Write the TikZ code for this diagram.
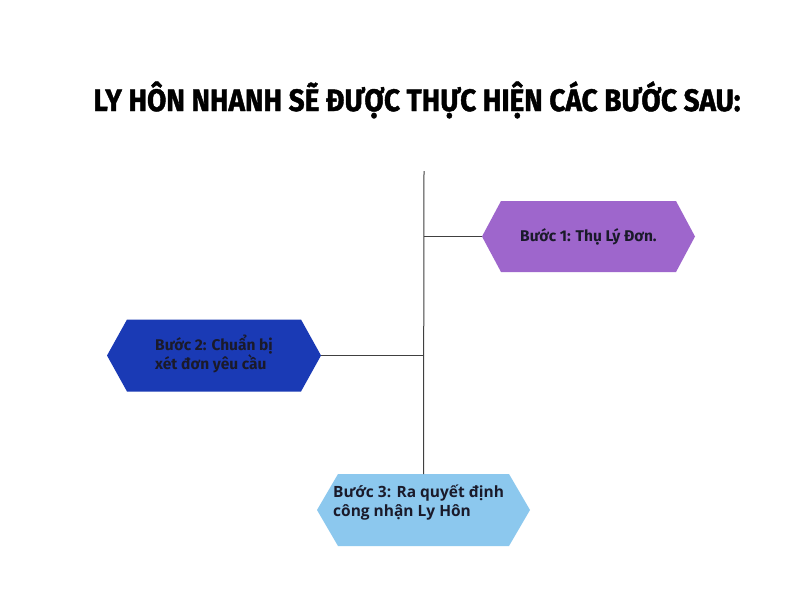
\documentclass[tikz,border=0pt]{standalone}
\usepackage{fontspec}
\setmainfont{Fira Sans}
\newfontfamily\opensans{Open Sans}
\newfontfamily\titlefont{Fira Sans}[BoldFeatures={FakeBold=1.5}]
\usetikzlibrary{calc}
\definecolor{hexpurple}{HTML}{9E66CC}
\definecolor{hexblue}{HTML}{1A3AB5}
\definecolor{hexlight}{HTML}{8CC8EE}
\definecolor{txtdark}{HTML}{1A1A2A}
\tikzset{
  conn/.style={draw=black!75, line width=1pt},
  steptext/.style={text=txtdark, font=\fontsize{15.5}{17}\selectfont\bfseries, align=left, inner sep=0pt},
}
% #1 name, #2 cx, #3 cy, #4 half width, #5 half height, #6 inset, #7 colour
\newcommand\hexshape[7]{%
  \fill[#7] (#2-#4,#3) -- (#2-#4+#6,#3-#5) -- (#2+#4-#6,#3-#5) -- (#2+#4,#3)
    -- (#2+#4-#6,#3+#5) -- (#2-#4+#6,#3+#5) -- cycle;
  \coordinate (#1-w) at (#2-#4,#3);
  \coordinate (#1-e) at (#2+#4,#3);
  \coordinate (#1-n) at (#2,#3-#5);
}
\begin{document}
\begin{tikzpicture}[x=1pt,y=-1pt]
\useasboundingbox (0,0) rectangle (800,600);
\fill[white] (0,0) rectangle (800,600);
% title
\node[anchor=base, inner sep=0pt] (title) at (417,111)
  {\scalebox{0.90}[1]{\titlefont\fontsize{31}{31}\selectfont\bfseries LY HÔN NHANH SẼ ĐƯỢC THỰC HIỆN CÁC BƯỚC SAU:}};
% hexagons
\hexshape{h1}{588.5}{236.5}{106.5}{35.5}{19}{hexpurple}
\hexshape{h2}{214}{355.5}{107}{36}{20}{hexblue}
\hexshape{h3}{423.5}{510}{106.5}{36}{21}{hexlight}
% spine
\coordinate (top) at (424,171);
\coordinate (j1) at (424,236.5);
\coordinate (j2) at (424,355.5);
\draw[conn] (top) -- (h3-n);
\draw[conn] (j1) -- (h1-w);
\draw[conn] (j2) -- (h2-e);
% texts
\node[steptext, anchor=west] (t1) at (520,237) {Bước 1: Thụ Lý Đơn.};
\node[steptext, anchor=west] (t2) at (155,354) {Bước 2: Chuẩn bị\\xét đơn yêu cầu};
\node[steptext, anchor=west, font=\opensans\fontsize{15.5}{19}\selectfont\bfseries] (t3) at (333,503) {Bước 3: Ra quyết định\\công nhận Ly Hôn};
\end{tikzpicture}
\end{document}
